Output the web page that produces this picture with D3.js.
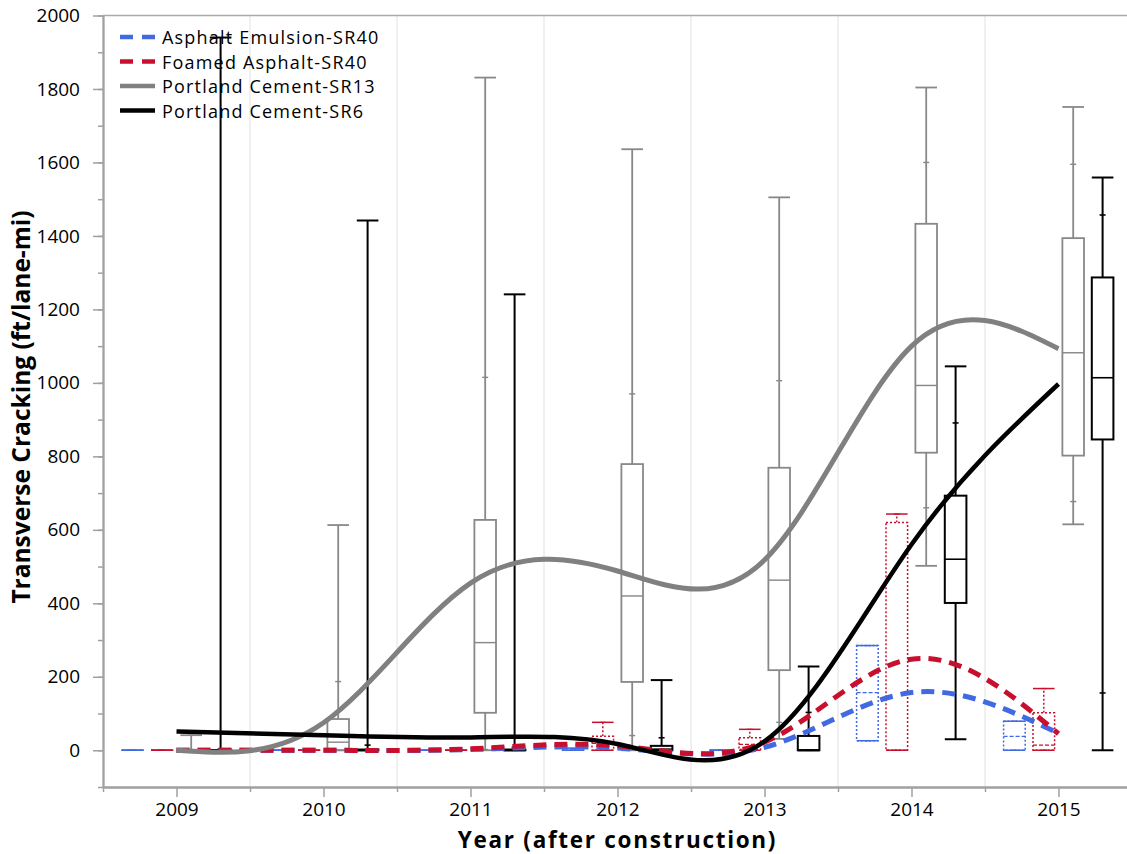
<!DOCTYPE html>
<html>
<head>
<meta charset="utf-8">
<script src="https://cdn.jsdelivr.net/npm/d3@7/dist/d3.min.js"></script>
<style>
  html, body { margin: 0; padding: 0; background: #fff; }
  svg { display: block; font-family: "Open Sans", "Noto Sans", sans-serif; }
</style>
</head>
<body>
<svg id="chart" width="1127" height="854"></svg>
<script>
// Survey years and the four pavement sections
const years = [2009, 2010, 2011, 2012, 2013, 2014, 2015];
const seriesNames = ["Asphalt Emulsion-SR40", "Foamed Asphalt-SR40", "Portland Cement-SR13", "Portland Cement-SR6"];

// Trend values (ft/lane-mi) at each survey year
const emulsionTrend = [0, 0, 2, 6, 8, 157, 46];
const foamedTrend   = [0, 0, 4, 12, 22, 248, 45];
const sr13Trend     = [0, 75, 455, 488, 518, 1100, 1093];
const sr6Trend      = [51, 41, 35, 17, 24, 560, 997];

// Box summaries per year: [min, low pct, Q1, median, Q3, high pct, max]
const emulsionBoxes = [
  [0, 0, 0, 0, 0, 0, 0],
  [0, 0, 0, 0, 0, 0, 0],
  [0, 0, 0, 0, 0, 0, 0],
  [0, 0, 0, 0, 4, 4, 6],
  [0, 0, 0, 0, 0, 0, 0],
  [26, 26, 26, 157, 285, 285, 285],
  [0, 0, 0, 38, 79, 79, 79]
];
const foamedBoxes = [
  [0, 0, 0, 0, 0, 0, 0],
  [0, 0, 0, 0, 0, 0, 0],
  [0, 0, 0, 0, 0, 0, 0],
  [0, 0, 0, 19, 38, 76, 76],
  [0, 0, 2, 16, 34, 57, 57],
  [0, 0, 0, 0, 620, 643, 643],
  [0, 0, 0, 14, 102, 168, 168]
];
const sr13Boxes = [
  [0, 0, 0, 0, 0, 41, 41],
  [0, 0, 0, 22, 85, 187, 613],
  [0, 2, 102, 293, 627, 1015, 1831],
  [0, 40, 186, 420, 779, 970, 1636],
  [31, 76, 218, 463, 769, 1006, 1505],
  [502, 660, 810, 993, 1433, 1600, 1804],
  [615, 677, 802, 1082, 1394, 1595, 1751]
];
const sr6Boxes = [
  [0, 0, 0, 0, 0, 3, 1940],
  [0, 0, 0, 0, 2, 14, 1442],
  [0, 0, 0, 0, 2, 8, 1241],
  [0, 0, 0, 3, 12, 34, 191],
  [0, 0, 0, 0, 39, 103, 228],
  [30, 232, 401, 520, 693, 891, 1045],
  [0, 156, 846, 1014, 1287, 1457, 1559]
];

const yMajorTicks = [0, 200, 400, 600, 800, 1000, 1200, 1400, 1600, 1800, 2000];

// Styling
const colors = ["#4169e1", "#c8102e", "#808080", "#000000"];
const boxOffsets = [-0.3, -0.1, 0.1, 0.3];
const boxWidthYears = 0.147;

const svg = d3.select("#chart");
const x = d3.scaleLinear().domain([2008.5, 2015.5]).range([103, 1132]);
const y = d3.scaleLinear().domain([-100, 2000]).range([787, 15.5]);

// vertical grid lines at half years
svg.append("g").selectAll("line")
  .data(d3.range(2009.5, 2015, 1))
  .join("line")
  .attr("x1", d => x(d)).attr("x2", d => x(d))
  .attr("y1", y(2000)).attr("y2", y(-100))
  .attr("stroke", "#ebebeb").attr("stroke-width", 1.5);

// top frame line
svg.append("line")
  .attr("x1", x(2008.5)).attr("x2", x(2015.5))
  .attr("y1", y(2000)).attr("y2", y(2000))
  .attr("stroke", "#aaaaaa").attr("stroke-width", 1.5);

// axes
const axisColor = "#a0a0a0";
const yMinor = svg.append("g").attr("transform", `translate(${x(2008.5)},0)`)
  .call(d3.axisLeft(y).tickValues(d3.range(-100, 2001, 100)).tickSize(5).tickFormat("").tickSizeOuter(0));
const yAxis = svg.append("g").attr("transform", `translate(${x(2008.5)},0)`)
  .call(d3.axisLeft(y).tickValues(yMajorTicks).tickSize(10).tickPadding(13)
    .tickFormat(d3.format("d")).tickSizeOuter(0));
const xMinor = svg.append("g").attr("transform", `translate(0,${y(-100)})`)
  .call(d3.axisBottom(x).tickValues(d3.range(2008.5, 2015.6, 1)).tickSize(5).tickFormat("").tickSizeOuter(0));
const xAxis = svg.append("g").attr("transform", `translate(0,${y(-100)})`)
  .call(d3.axisBottom(x).tickValues(years).tickSize(10).tickPadding(6).tickFormat(d3.format("d")).tickSizeOuter(0));

[yMinor, yAxis, xMinor, xAxis].forEach(g => {
  g.selectAll("path").attr("stroke", axisColor).attr("stroke-width", 1.8);
  g.selectAll("line").attr("stroke", axisColor).attr("stroke-width", 1.5);
  g.selectAll("text").attr("fill", "#000").attr("font-size", 19)
    .attr("font-family", "'Open Sans', sans-serif");
});

// axis titles
svg.append("text")
  .attr("x", 617.5).attr("y", 848)
  .attr("text-anchor", "middle")
  .attr("font-size", 22.5).attr("font-weight", "bold")
  .attr("letter-spacing", 1.7)
  .text("Year (after construction)");
svg.append("text")
  .attr("transform", `translate(30,407) rotate(-90)`)
  .attr("text-anchor", "middle")
  .attr("font-size", 24.5).attr("font-weight", "bold")
  .text("Transverse Cracking (ft/lane-mi)");

// box plots
const allBoxes = [emulsionBoxes, foamedBoxes, sr13Boxes, sr6Boxes];
const boxStyles = [
  { stroke: colors[0], width: 1.5, boxDash: "2,2", medDash: "4,2", whiskDash: "2,2" },
  { stroke: colors[1], width: 1.5, boxDash: "2,2", medDash: "4,2", whiskDash: "2,2" },
  { stroke: "#888888", width: 1.8, boxDash: null, medDash: null, whiskDash: null },
  { stroke: "#000000", width: 2, boxDash: null, medDash: null, whiskDash: null }
];
const halfW = (x(boxWidthYears) - x(0)) / 2;
const tickHalf = 3;

allBoxes.forEach((boxes, si) => {
  const st = boxStyles[si];
  const g = svg.append("g").attr("class", "boxes-" + si);
  boxes.forEach((b, yi) => {
    const [mn, pLo, q1, med, q3, pHi, mx] = b;
    const cx = x(years[yi] + boxOffsets[si]);
    // whiskers
    [[mn, q1], [q3, mx]].forEach(([a, c]) => {
      if (a === c) return;
      g.append("line").attr("x1", cx).attr("x2", cx).attr("y1", y(a)).attr("y2", y(c))
        .attr("stroke", st.stroke).attr("stroke-width", st.width)
        .attr("stroke-dasharray", st.whiskDash);
    });
    // box
    g.append("rect")
      .attr("x", cx - halfW).attr("width", halfW * 2)
      .attr("y", y(q3)).attr("height", Math.max(0.01, y(q1) - y(q3)))
      .attr("fill", "#fff").attr("stroke", st.stroke).attr("stroke-width", st.width)
      .attr("stroke-dasharray", st.boxDash);
    // median
    g.append("line").attr("x1", cx - halfW).attr("x2", cx + halfW)
      .attr("y1", y(med)).attr("y2", y(med))
      .attr("stroke", st.stroke).attr("stroke-width", st.width * 0.8)
      .attr("stroke-dasharray", st.medDash);
    // percentile ticks
    [pLo, pHi].forEach(v => {
      g.append("line").attr("x1", cx - tickHalf).attr("x2", cx + tickHalf)
        .attr("y1", y(v)).attr("y2", y(v))
        .attr("stroke", st.stroke).attr("stroke-width", st.width * 0.8);
    });
    // caps
    [mn, mx].forEach(v => {
      g.append("line").attr("x1", cx - halfW).attr("x2", cx + halfW)
        .attr("y1", y(v)).attr("y2", y(v))
        .attr("stroke", st.stroke).attr("stroke-width", st.width);
    });
  });
});

// smoothed trend lines
const trends = [emulsionTrend, foamedTrend, sr13Trend, sr6Trend];
const lineStyles = [
  { width: 5, dash: "13,8" },
  { width: 5, dash: "13,8" },
  { width: 5, dash: null },
  { width: 4.5, dash: null }
];
const line = d3.line()
  .x((d, i) => x(years[i]))
  .y(d => y(d))
  .curve(d3.curveNatural);

trends.forEach((t, si) => {
  svg.append("path")
    .datum(t)
    .attr("d", line)
    .attr("fill", "none")
    .attr("stroke", colors[si])
    .attr("stroke-width", lineStyles[si].width)
    .attr("stroke-dasharray", lineStyles[si].dash);
});

// legend
const legend = svg.append("g");
seriesNames.forEach((name, i) => {
  const ly = 37 + i * 24.5;
  legend.append("line")
    .attr("x1", 120).attr("x2", 155).attr("y1", ly).attr("y2", ly)
    .attr("stroke", colors[i]).attr("stroke-width", 4.5)
    .attr("stroke-dasharray", i < 2 ? "13,9" : null);
  legend.append("text")
    .attr("x", 162).attr("y", ly)
    .attr("dominant-baseline", "central")
    .attr("font-size", 18)
    .attr("letter-spacing", 1.2)
    .text(name);
});
</script>
</body>
</html>
